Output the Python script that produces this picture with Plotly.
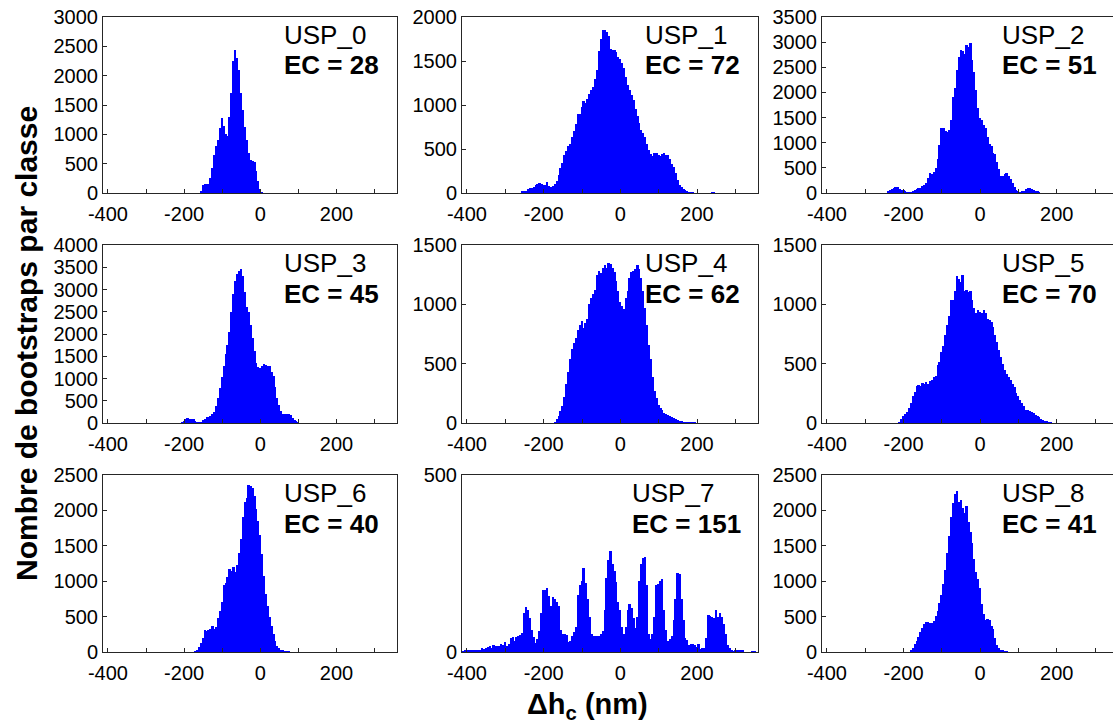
import numpy as np
import plotly.graph_objects as go

# ---------------- data (counts per 5-nm class) ----------------
BIN_WIDTH = 5
PANEL_NAMES = ["USP_0", "USP_1", "USP_2", "USP_3", "USP_4", "USP_5", "USP_6", "USP_7", "USP_8"]
EC_VALUES = [28, 72, 51, 45, 62, 70, 40, 151, 41]
Y_MAX = [3000, 2000, 3500, 4000, 1500, 1500, 2500, 500, 2500]
X_TICKS = [-400, -200, 0, 200]
X_TICK_TEXT = ["-400", "-200", "0", "200"]

USP0_START = -155
USP0 = [40, 140, 150, 150, 160, 250, 420, 640, 800, 900, 1100, 1280, 1150, 1000, 980, 1300,
        1700, 2250, 2430, 2300, 2100, 1700, 1420, 1130, 900, 680, 560, 540, 530, 380, 200, 70, 15]

USP1_START = -255
USP1 = [15, 20, 25, 40, 55, 60, 70, 90, 105, 110, 105, 95, 95, 120, 85, 70, 80, 100, 140, 200,
        280, 340, 435, 480, 530, 560, 640, 710, 780, 900, 900, 980, 1050, 1020, 1070, 1120, 1170,
        1200, 1290, 1400, 1610, 1750, 1855, 1850, 1830, 1780, 1640, 1620, 1630, 1600, 1550, 1525,
        1480, 1420, 1320, 1230, 1170, 1110, 1055, 960, 880, 790, 720, 680, 640, 560, 490, 440, 415,
        455, 450, 430, 415, 440, 450, 435, 430, 390, 335, 290, 225, 150, 95, 70, 50, 30, 15, 10, 8,
        5, 0, 0, 0, 0, 0, 0, 0, 0, 0, 10, 10]

USP2_START = -240
USP2 = [30, 60, 85, 105, 125, 110, 80, 60, 50, 35, 15, 8, 10, 20, 50, 80, 90, 100, 130, 160, 200,
        300, 400, 380, 420, 500, 680, 950, 1290, 1290, 1225, 1220, 1250, 1450, 1900, 2090, 2450,
        2700, 2840, 2830, 2760, 2950, 2900, 2980, 2650, 2400, 2050, 1700, 1500, 1450, 1360, 1300,
        1120, 980, 930, 800, 780, 620, 480, 330, 340, 370, 390, 340, 280, 190, 110, 50, 30, 15, 20,
        40, 80, 105, 100, 80, 50, 35, 20, 10]

USP3_START = -205
USP3 = [15, 25, 80, 110, 100, 95, 100, 40, 20, 15, 20, 60, 100, 140, 140, 150, 200, 250, 380,
        560, 780, 1030, 1280, 1540, 1760, 2050, 2500, 2900, 3180, 3340, 3420, 3450, 3300, 2950,
        2600, 2500, 2200, 1900, 1620, 1350, 1260, 1230, 1270, 1320, 1300, 1270, 1290, 1150, 1050,
        800, 560, 400, 270, 210, 195, 210, 210, 180, 110, 60, 25, 10]

USP4_START = -170
USP4 = [8, 35, 55, 100, 140, 220, 330, 430, 540, 620, 670, 720, 780, 825, 860, 800, 840, 880,
        1000, 1050, 1090, 1120, 1250, 1280, 1260, 1310, 1330, 1310, 1350, 1340, 1310, 1270, 1200,
        1110, 1020, 990, 960, 1050, 1110, 1220, 1275, 1280, 1300, 1330, 1300, 1220, 1110, 970, 830,
        660, 540, 390, 270, 210, 150, 125, 110, 85, 75, 65, 55, 48, 42, 30, 25, 18, 12, 8, 8, 8, 8,
        8, 5, 5]

USP5_START = -210
USP5 = [8, 35, 55, 75, 95, 125, 170, 230, 260, 310, 320, 315, 340, 330, 345, 330, 350, 365, 385,
        395, 485, 515, 600, 650, 740, 830, 900, 1035, 1040, 1110, 1240, 1210, 1190, 1245, 1110,
        1120, 1105, 1110, 1040, 970, 925, 950, 935, 925, 950, 930, 880, 865, 850, 810, 740, 680,
        615, 555, 495, 450, 410, 390, 365, 330, 300, 255, 225, 190, 165, 140, 112, 112, 100, 90,
        82, 68, 55, 48, 35, 26, 18, 10, 8, 5]

USP6_START = -170
USP6 = [5, 25, 75, 130, 200, 310, 290, 305, 320, 370, 330, 360, 480, 580, 700, 940, 980, 1060,
        1170, 1140, 1200, 1130, 1230, 1400, 1600, 1900, 2120, 2180, 2360, 2340, 2320, 2200, 2020,
        1850, 1650, 1380, 1070, 820, 650, 500, 370, 250, 150, 90, 55, 35, 24, 14, 10, 5]

USP7_START = -410
USP7 = [2, 3, 3, 4, 5, 5, 5, 5, 6, 7, 11, 8, 10, 14, 17, 12, 19, 18, 16, 18, 22, 21, 28, 16, 24,
        40, 41, 30, 42, 44, 47, 54, 110, 128, 120, 95, 61, 42, 25, 38, 60, 110, 174, 175, 180, 158,
        130, 154, 150, 142, 130, 63, 52, 52, 47, 27, 30, 45, 56, 70, 160, 190, 200, 236, 195, 150,
        100, 50, 44, 44, 44, 45, 52, 60, 120, 210, 260, 286, 250, 230, 198, 141, 118, 71, 52, 71,
        120, 135, 125, 97, 69, 99, 200, 250, 265, 269, 189, 50, 38, 52, 100, 189, 193, 200, 207,
        120, 61, 30, 36, 45, 90, 150, 224, 220, 150, 90, 40, 33, 19, 24, 22, 19, 14, 24, 9, 12, 12,
        40, 104, 101, 100, 95, 118, 100, 110, 100, 80, 50, 20, 10, 5, 2, 3, 7, 4, 5, 3, 0, 0, 0, 0,
        2, 2]

USP8_START = -180
USP8 = [15, 60, 110, 150, 210, 280, 340, 395, 425, 420, 405, 410, 440, 515, 580, 690, 800, 960,
        1160, 1400, 1640, 1900, 2100, 2230, 2280, 2120, 2140, 2030, 1970, 2060, 1830, 1700, 1540,
        1320, 1130, 1030, 900, 680, 540, 455, 465, 450, 370, 320, 200, 100, 50, 25, 15, 10, 5]

STARTS = [USP0_START, USP1_START, USP2_START, USP3_START, USP4_START, USP5_START,
          USP6_START, USP7_START, USP8_START]
COUNTS = [USP0, USP1, USP2, USP3, USP4, USP5, USP6, USP7, USP8]

# ---------------- layout (pixel geometry of the 3x3 grid) ----------------
W, H = 1113, 728
COL_PX = [(103, 397), (462, 758), (822, 1113)]
ROW_PX = [(17, 193), (245, 423), (475, 652)]
X_RANGES = [[-413, 359], [-413, 359], [-413, 347]]
FONT = "Liberation Sans, Arial, sans-serif"
AX_COLOR = "#262626"
BLUE = "#0000FF"

fig = go.Figure()
layout = {}
annotations = []
for i in range(9):
    r, c = divmod(i, 3)
    n = "" if i == 0 else str(i + 1)
    x0 = STARTS[i]
    xs = x0 + BIN_WIDTH * np.arange(len(COUNTS[i]))
    fig.add_trace(go.Bar(x=xs, y=COUNTS[i], width=BIN_WIDTH, marker=dict(color=BLUE, line=dict(width=0)),
                         xaxis="x" + n, yaxis="y" + n, showlegend=False, hoverinfo="x+y"))
    xd = [COL_PX[c][0] / W, COL_PX[c][1] / W]
    yd = [1 - ROW_PX[r][1] / H, 1 - ROW_PX[r][0] / H]
    layout["xaxis" + n] = dict(domain=xd, range=X_RANGES[c], anchor="y" + n, automargin=False,
                               tickvals=X_TICKS, ticktext=X_TICK_TEXT, ticklabelstandoff=3,
                               ticks="inside", ticklen=4, tickcolor=AX_COLOR,
                               minor=dict(dtick=100, tick0=0, ticks="inside", ticklen=4,
                                          tickcolor=AX_COLOR, showgrid=False),
                               showline=True, linecolor=AX_COLOR, linewidth=1, mirror=True,
                               showgrid=False, zeroline=False,
                               tickfont=dict(family=FONT, size=20, color="black"))
    layout["yaxis" + n] = dict(domain=yd, range=[0, Y_MAX[i]], anchor="x" + n, automargin=False,
                               tickvals=list(range(0, Y_MAX[i] + 1, 500)),
                               ticks="inside", ticklen=4, tickcolor=AX_COLOR,
                               showline=True, linecolor=AX_COLOR, linewidth=1,
                               mirror=(c != 2),
                               showgrid=False, zeroline=False,
                               tickfont=dict(family=FONT, size=20, color="black"))
    tx = 0.567 if i == 7 else 0.61
    annotations.append(dict(text=PANEL_NAMES[i], xref="x" + n + " domain", yref="y" + n + " domain",
                            x=tx, y=0.9, xanchor="left", yanchor="middle", showarrow=False,
                            font=dict(family=FONT, size=26, color="black")))
    annotations.append(dict(text="<b>EC = %d</b>" % EC_VALUES[i], xref="x" + n + " domain",
                            yref="y" + n + " domain",
                            x=tx, y=0.725, xanchor="left", yanchor="middle", showarrow=False,
                            font=dict(family=FONT, size=26, color="black")))

annotations.append(dict(text="<b>Nombre de bootstraps par classe</b>", xref="paper", yref="paper",
                        x=26 / W, y=1 - 344 / H, textangle=-90, showarrow=False,
                        xanchor="center", yanchor="middle",
                        font=dict(family=FONT, size=30, color="black")))
annotations.append(dict(text="<b>Δh<sub>c</sub> (nm)</b>", xref="paper", yref="paper",
                        x=587 / W, y=1 - 706 / H, showarrow=False,
                        xanchor="center", yanchor="middle",
                        font=dict(family=FONT, size=29, color="black")))

fig.update_layout(template="none", width=W, height=H, margin=dict(l=0, r=0, t=0, b=0, pad=0),
                  paper_bgcolor="white", plot_bgcolor="white", bargap=0,
                  annotations=annotations, **layout)

fig.write_html("out.html", config={"displayModeBar": False},
               post_script="document.body.style.margin='0px';document.body.style.overflow='hidden';")
